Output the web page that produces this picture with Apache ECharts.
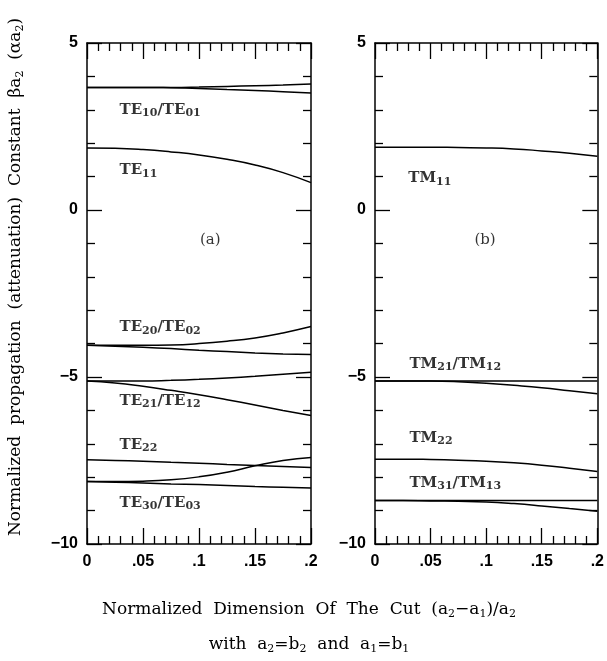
<!DOCTYPE html>
<html>
<head>
<meta charset="utf-8">
<script src="https://cdn.jsdelivr.net/npm/echarts@6/dist/echarts.min.js"></script>
<style>
  html, body { margin: 0; padding: 0; background: #fff; }
  #chart { width: 607px; height: 661px; }
</style>
</head>
<body>
<div id="chart"></div>
<script>
// x samples (normalized cut dimension)
const xs = [0, 0.025, 0.05, 0.075, 0.1, 0.125, 0.15, 0.175, 0.2];

// (a) TE modes
const te10Up = [3.67, 3.67, 3.67, 3.67, 3.68, 3.70, 3.72, 3.74, 3.77];
const te10Down = [3.67, 3.67, 3.67, 3.66, 3.64, 3.61, 3.58, 3.54, 3.50];
const te11 = [1.86, 1.85, 1.81, 1.74, 1.65, 1.52, 1.35, 1.12, 0.82];
const te20Up = [-4.05, -4.05, -4.05, -4.04, -4.00, -3.93, -3.83, -3.68, -3.49];
const te20Down = [-4.05, -4.08, -4.11, -4.15, -4.20, -4.24, -4.28, -4.31, -4.33];
const te21Up = [-5.12, -5.12, -5.12, -5.10, -5.07, -5.03, -4.98, -4.92, -4.86];
const te21Down = [-5.12, -5.18, -5.28, -5.40, -5.53, -5.68, -5.84, -6.00, -6.15];
const te22 = [-7.48, -7.50, -7.52, -7.55, -7.58, -7.62, -7.65, -7.68, -7.71];
const te30Up = [-8.13, -8.13, -8.12, -8.08, -7.99, -7.85, -7.66, -7.50, -7.41];
const te30Down = [-8.13, -8.15, -8.17, -8.20, -8.22, -8.25, -8.28, -8.30, -8.32];

// (b) TM modes
const tm11 = [1.88, 1.88, 1.88, 1.87, 1.86, 1.83, 1.77, 1.70, 1.61];
const tm21Up = [-5.12, -5.12, -5.12, -5.12, -5.12, -5.12, -5.12, -5.12, -5.12];
const tm21Down = [-5.12, -5.12, -5.12, -5.14, -5.19, -5.25, -5.32, -5.41, -5.50];
const tm22 = [-7.46, -7.46, -7.47, -7.49, -7.52, -7.57, -7.64, -7.73, -7.83];
const tm31Up = [-8.70, -8.70, -8.70, -8.70, -8.70, -8.70, -8.70, -8.70, -8.70];
const tm31Down = [-8.70, -8.70, -8.71, -8.72, -8.74, -8.79, -8.86, -8.94, -9.02];

// mode labels: [x, y, rich text]
const teLabels = [
  [0.029, 2.99, '{m|TE}{s|10}{m|/TE}{s|01}'],
  [0.029, 1.19, '{m|TE}{s|11}'],
  [0.029, -3.52, '{m|TE}{s|20}{m|/TE}{s|02}'],
  [0.029, -5.71, '{m|TE}{s|21}{m|/TE}{s|12}'],
  [0.029, -7.03, '{m|TE}{s|22}'],
  [0.029, -8.77, '{m|TE}{s|30}{m|/TE}{s|03}']
];
const tmLabels = [
  [0.030, 0.95, '{m|TM}{s|11}'],
  [0.031, -4.60, '{m|TM}{s|21}{m|/TM}{s|12}'],
  [0.031, -6.82, '{m|TM}{s|22}'],
  [0.031, -8.17, '{m|TM}{s|31}{m|/TM}{s|13}']
];
const panelTags = [[0.11, -0.9, '(a)'], [0.099, -0.9, '(b)']];

const yTitle = '{t|Normalized  propagation  (attenuation)  Constant  \u03B2a}{u|2}{t|  (\u03B1a}{u|2}{t|)}';
const xTitle = '{t|Normalized  Dimension  Of  The  Cut  (a}{u|2}{t|\u2212a}{u|1}{t|)/a}{u|2}';
const xSubTitle = '{t|with  a}{u|2}{t|=b}{u|2}{t|  and  a}{u|1}{t|=b}{u|1}';

const xTickLabel = function (v) {
  if (v === 0) return '0';
  return (+v.toFixed(2)).toString().replace(/^0/, '');
};
const yTickLabel = function (v) {
  return v < 0 ? '\u2212' + Math.abs(v) : String(v);
};

const tickFont = { color: '#000', fontFamily: 'Liberation Sans', fontWeight: 'bold', fontSize: 16 };
const richStyle = {
  m: { fontFamily: 'DejaVu Serif', fontWeight: 'bold', fontSize: 15, color: '#000' },
  s: { fontFamily: 'DejaVu Serif', fontWeight: 'bold', fontSize: 11, color: '#000', padding: [7, 0, 0, 0] }
};
const titleRich = {
  t: { fontFamily: 'DejaVu Serif', fontSize: 17, color: '#000' },
  u: { fontFamily: 'DejaVu Serif', fontSize: 11, color: '#000', padding: [8, 0, 0, 0] }
};

const makeX = function (gridIndex, position) {
  const bottom = position === 'bottom';
  return {
    type: 'value', gridIndex: gridIndex, position: position,
    min: 0, max: 0.2, interval: 0.05,
    axisLine: { show: true, onZero: false, lineStyle: { color: '#000', width: 1.5 } },
    axisTick: { show: true, inside: true, length: 16, lineStyle: { color: '#000', width: 1.3 } },
    minorTick: { show: true, splitNumber: 5, length: 8, lineStyle: { color: '#000', width: 1.3 } },
    axisLabel: Object.assign({ show: bottom, margin: 10, formatter: xTickLabel }, tickFont),
    splitLine: { show: false }
  };
};
const makeY = function (gridIndex, position) {
  const left = position === 'left';
  return {
    type: 'value', gridIndex: gridIndex, position: position,
    min: -10, max: 5, interval: 5,
    axisLine: { show: true, onZero: false, lineStyle: { color: '#000', width: 1.5 } },
    axisTick: { show: true, inside: true, length: 15, lineStyle: { color: '#000', width: 1.3 } },
    minorTick: { show: true, splitNumber: 5, length: 8, lineStyle: { color: '#000', width: 1.3 } },
    axisLabel: Object.assign({ show: left, margin: 9, formatter: yTickLabel }, tickFont),
    splitLine: { show: false }
  };
};

const lineSeries = function (values, xi, yi) {
  return {
    type: 'line', xAxisIndex: xi, yAxisIndex: yi,
    data: xs.map(function (x, i) { return [x, values[i]]; }),
    showSymbol: false, smooth: true, silent: true,
    lineStyle: { color: '#000', width: 1.5 }
  };
};
const labelSeries = function (labels, xi, yi) {
  return {
    type: 'scatter', xAxisIndex: xi, yAxisIndex: yi, symbolSize: 0, silent: true,
    data: labels.map(function (l) { return { value: [l[0], l[1]], txt: l[2] }; }),
    label: {
      show: true, position: 'right', distance: 0,
      formatter: function (p) { return p.data.txt; },
      rich: richStyle
    }
  };
};
const tagSeries = function (tag, xi, yi) {
  return {
    type: 'scatter', xAxisIndex: xi, yAxisIndex: yi, symbolSize: 0, silent: true,
    data: [[tag[0], tag[1]]],
    label: { show: true, position: 'inside', formatter: tag[2], fontFamily: 'DejaVu Serif', fontSize: 15, color: '#000' }
  };
};

const teCurves = [te10Up, te10Down, te11, te20Up, te20Down, te21Up, te21Down, te22, te30Up, te30Down];
const tmCurves = [tm11, tm21Up, tm21Down, tm22, tm31Up, tm31Down];

const series = [];
teCurves.forEach(function (c) { series.push(lineSeries(c, 0, 0)); });
tmCurves.forEach(function (c) { series.push(lineSeries(c, 2, 2)); });
series.push(labelSeries(teLabels, 0, 0));
series.push(labelSeries(tmLabels, 2, 2));
series.push(tagSeries(panelTags[0], 0, 0));
series.push(tagSeries(panelTags[1], 2, 2));

const chart = echarts.init(document.getElementById('chart'));
chart.setOption({
  animation: false,
  backgroundColor: '#fff',
  grid: [
    { left: 87, top: 43, width: 224, height: 501 },
    { left: 375, top: 43, width: 223, height: 501 }
  ],
  xAxis: [makeX(0, 'bottom'), makeX(0, 'top'), makeX(1, 'bottom'), makeX(1, 'top')],
  yAxis: [makeY(0, 'left'), makeY(0, 'right'), makeY(1, 'left'), makeY(1, 'right')],
  graphic: [
    {
      type: 'text', x: 16, y: 277, rotation: Math.PI / 2,
      style: { text: yTitle, rich: titleRich, align: 'center', verticalAlign: 'middle' }
    },
    {
      type: 'text', x: 309, y: 610,
      style: { text: xTitle, rich: titleRich, align: 'center', verticalAlign: 'middle' }
    },
    {
      type: 'text', x: 309, y: 645,
      style: { text: xSubTitle, rich: titleRich, align: 'center', verticalAlign: 'middle' }
    }
  ],
  series: series
});
</script>
</body>
</html>
